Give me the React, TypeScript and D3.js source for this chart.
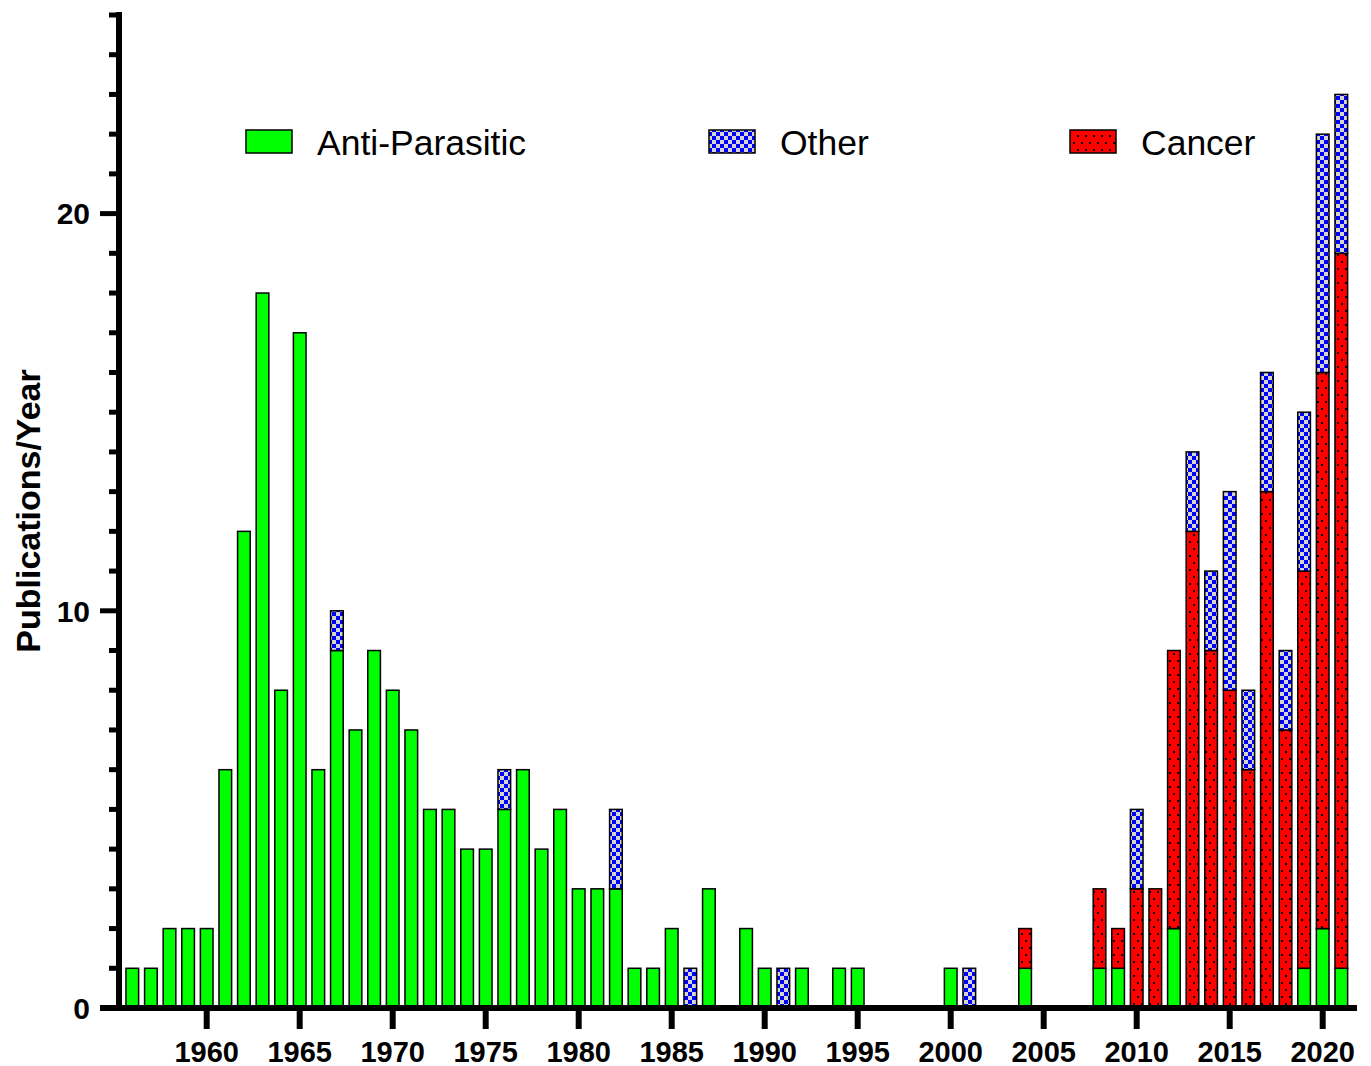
import React from 'react';
import * as d3 from 'd3';

// publication counts per year
const years = [
  1956, 1957, 1958, 1959, 1960, 1961, 1962, 1963, 1964, 1965, 1966, 1967, 1968, 1969, 1970,
  1971, 1972, 1973, 1974, 1975, 1976, 1977, 1978, 1979, 1980, 1981, 1982, 1983, 1984, 1985,
  1986, 1987, 1988, 1989, 1990, 1991, 1992, 1993, 1994, 1995, 1996, 1997, 1998, 1999, 2000,
  2001, 2002, 2003, 2004, 2005, 2006, 2007, 2008, 2009, 2010, 2011, 2012, 2013, 2014, 2015,
  2016, 2017, 2018, 2019, 2020, 2021,
];
const antiParasitic = [
  1, 1, 2, 2, 2, 6, 12, 18, 8, 17, 6, 9, 7, 9, 8,
  7, 5, 5, 4, 4, 5, 6, 4, 5, 3, 3, 3, 1, 1, 2,
  0, 3, 0, 2, 1, 0, 1, 0, 1, 1, 0, 0, 0, 0, 1,
  0, 0, 0, 1, 0, 0, 0, 1, 1, 0, 0, 2, 0, 0, 0,
  0, 0, 0, 1, 2, 1,
];
const cancer = [
  0, 0, 0, 0, 0, 0, 0, 0, 0, 0, 0, 0, 0, 0, 0,
  0, 0, 0, 0, 0, 0, 0, 0, 0, 0, 0, 0, 0, 0, 0,
  0, 0, 0, 0, 0, 0, 0, 0, 0, 0, 0, 0, 0, 0, 0,
  0, 0, 0, 1, 0, 0, 0, 2, 1, 3, 3, 7, 12, 9, 8,
  6, 13, 7, 10, 14, 18,
];
const other = [
  0, 0, 0, 0, 0, 0, 0, 0, 0, 0, 0, 1, 0, 0, 0,
  0, 0, 0, 0, 0, 1, 0, 0, 0, 0, 0, 2, 0, 0, 0,
  1, 0, 0, 0, 0, 1, 0, 0, 0, 0, 0, 0, 0, 0, 0,
  1, 0, 0, 0, 0, 0, 0, 0, 0, 2, 0, 0, 2, 2, 5,
  2, 3, 2, 4, 6, 4,
];
const xTicks = [1960, 1965, 1970, 1975, 1980, 1985, 1990, 1995, 2000, 2005, 2010, 2015, 2020];
const yMajor = [0, 10, 20];
const yMinor = [1, 2, 3, 4, 5, 6, 7, 8, 9, 11, 12, 13, 14, 15, 16, 17, 18, 19, 21, 22, 23, 24, 25];

const keys = ['ap', 'cancer', 'other'] as const;
const fills: Record<string, string> = {
  ap: '#00ff00',
  cancer: 'url(#dots)',
  other: 'url(#checker)',
};
const legend = [
  { key: 'ap', label: 'Anti-Parasitic', x: 246 },
  { key: 'other', label: 'Other', x: 709 },
  { key: 'cancer', label: 'Cancer', x: 1070 },
];

const rows = years.map((y, i) => ({ year: y, ap: antiParasitic[i], cancer: cancer[i], other: other[i] }));

export default function App() {
  const x = d3.scaleLinear().domain([1960, 2020]).range([206.7, 1322.7]);
  const y = d3.scaleLinear().domain([0, 25]).range([1008, 15]);
  const barW = (x(1961) - x(1960)) * 0.68;
  const series = d3.stack<any>().keys(keys as any)(rows);
  const axisX = 119;

  return (
    <svg width={1371} height={1066} style={{ position: 'absolute', left: 0, top: 0, background: '#fff' }}
      fontFamily="Arial, 'Liberation Sans', Helvetica, sans-serif">
      <defs>
        <pattern id="checker" width={8} height={8} patternUnits="userSpaceOnUse">
          <rect width={8} height={8} fill="#d4d4d4" />
          <rect width={4} height={4} fill="#0000ff" />
          <rect x={4} y={4} width={4} height={4} fill="#0000ff" />
        </pattern>
        <pattern id="dots" width={8} height={14} patternUnits="userSpaceOnUse">
          <rect width={8} height={14} fill="#ff0000" />
          <rect x={1} y={2} width={2} height={2} fill="#000" />
          <rect x={5} y={9} width={2} height={2} fill="#000" />
        </pattern>
      </defs>

      {/* bars */}
      {series.map(s => (
        <g key={s.key}>
          {s.map((d, i) => d[1] - d[0] > 0 ? (
            <rect key={i} x={x(rows[i].year) - barW / 2} y={y(d[1])} width={barW}
              height={y(d[0]) - y(d[1])} fill={fills[s.key]} stroke="#000" strokeWidth={1.5} />
          ) : null)}
        </g>
      ))}

      {/* y axis */}
      <line x1={axisX} x2={axisX} y1={12} y2={1011} stroke="#000" strokeWidth={6} />
      {yMinor.map(v => (
        <line key={v} x1={109} x2={axisX} y1={y(v)} y2={y(v)} stroke="#000" strokeWidth={5} />
      ))}
      {yMajor.map(v => (
        <g key={v}>
          <line x1={100} x2={axisX} y1={y(v)} y2={y(v)} stroke="#000" strokeWidth={5} />
          <text x={90} y={y(v)} dy="0.36em" textAnchor="end" fontSize={30} fontWeight="bold">{v}</text>
        </g>
      ))}

      {/* x axis */}
      <line x1={100} x2={1357} y1={1008} y2={1008} stroke="#000" strokeWidth={6} />
      {xTicks.map(t => (
        <g key={t}>
          <line x1={x(t)} x2={x(t)} y1={1008} y2={1029} stroke="#000" strokeWidth={6} />
          <text x={x(t)} y={1062} textAnchor="middle" fontSize={29} fontWeight="bold">{t}</text>
        </g>
      ))}

      <text transform="translate(40,511) rotate(-90)" textAnchor="middle" fontSize={34} fontWeight="bold">
        Publications/Year
      </text>

      {/* legend */}
      {legend.map(l => (
        <g key={l.key}>
          <rect x={l.x} y={130} width={46} height={23} fill={fills[l.key]} stroke="#000" strokeWidth={1.5} />
          <text x={l.x + 71} y={155} fontSize={35.5}>{l.label}</text>
        </g>
      ))}
    </svg>
  );
}
